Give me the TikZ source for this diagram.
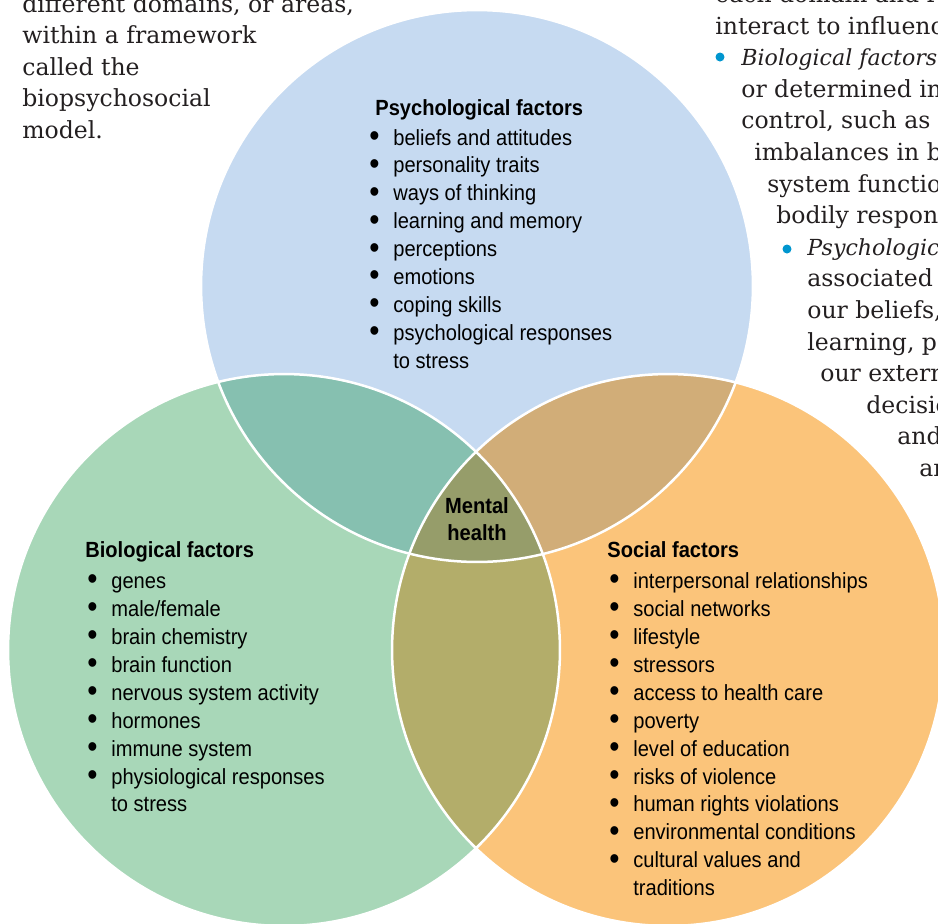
\documentclass[tikz,border=0pt]{standalone}
\usepackage{fontspec}
\setmainfont{DejaVu Serif}
\setsansfont{Liberation Sans}[FakeStretch=0.915]
\usetikzlibrary{positioning}
\definecolor{psyBlue}{HTML}{C6DAF1}
\definecolor{bioGreen}{HTML}{A8D7B8}
\definecolor{socOrange}{HTML}{FBC47A}
\definecolor{bioPsy}{HTML}{86C0B0}
\definecolor{psySoc}{HTML}{D1AD78}
\definecolor{bioSoc}{HTML}{B3AD6A}
\definecolor{mentalCore}{HTML}{969D6A}
\definecolor{pageInk}{HTML}{231F20}
\definecolor{bulletCyan}{HTML}{0096CF}
\newcommand{\blt}{\smash{\raisebox{-0.06em}{\scalebox{1.45}{\textbullet}}}}
\newcommand{\itx}[1]{{\fontsize{12.6}{18}\selectfont\itshape #1}}

\begin{document}
\begin{tikzpicture}[
    x=0.02cm, y=-0.02cm,
    factor/.style={anchor=base west, inner sep=0pt, font=\sffamily\fontsize{12.5}{15.9}\selectfont},
    heading/.style={anchor=base west, inner sep=0pt, font=\sffamily\bfseries\fontsize{12.5}{15.9}\selectfont},
    pagetext/.style={anchor=base west, inner sep=0pt, text=pageInk, font=\fontsize{13.4}{18}\selectfont},
    ring/.style={draw=white, line width=0.05cm},
    dot/.style={fill=bulletCyan}
  ]
    \clip (0,0) rectangle (938,924);
    \coordinate (psy) at (477,286);
    \coordinate (bio) at (284,650);
    \coordinate (soc) at (668,650);

    % the three domains
    \fill[psyBlue] (psy) circle[radius=5.52cm];
    \fill[bioGreen] (bio) circle[radius=5.52cm];
    \fill[socOrange] (soc) circle[radius=5.52cm];
    \begin{scope}
      \clip (psy) circle[radius=5.52cm];
      \fill[bioPsy] (bio) circle[radius=5.52cm];
      \fill[psySoc] (soc) circle[radius=5.52cm];
    \end{scope}
    \begin{scope}
      \clip (bio) circle[radius=5.52cm];
      \fill[bioSoc] (soc) circle[radius=5.52cm];
      \clip (soc) circle[radius=5.52cm];
      \fill[mentalCore] (psy) circle[radius=5.52cm];
    \end{scope}
    \draw[ring] (psy) circle[radius=5.52cm];
    \draw[ring] (bio) circle[radius=5.52cm];
    \draw[ring] (soc) circle[radius=5.52cm];

    % lists
    \node[heading] (psyHead) at (375,115) {Psychological factors};
    \node[factor] (psyList) at (369,145) {\begin{tabular}[t]{@{}p{0.48cm}@{}l@{}}
      \blt & beliefs and attitudes\\
      \blt & personality traits\\
      \blt & ways of thinking\\
      \blt & learning and memory\\
      \blt & perceptions\\
      \blt & emotions\\
      \blt & coping skills\\
      \blt & psychological responses\\
           & to stress
    \end{tabular}};

    \node[heading] (bioHead) at (85,557) {Biological factors};
    \node[factor] (bioList) at (87,588.5) {\begin{tabular}[t]{@{}p{0.48cm}@{}l@{}}
      \blt & genes\\
      \blt & male/female\\
      \blt & brain chemistry\\
      \blt & brain function\\
      \blt & nervous system activity\\
      \blt & hormones\\
      \blt & immune system\\
      \blt & physiological responses\\
           & to stress
    \end{tabular}};

    \node[heading] (socHead) at (607,557) {Social factors};
    \node[factor] (socList) at (609,588.5) {\begin{tabular}[t]{@{}p{0.48cm}@{}l@{}}
      \blt & interpersonal relationships\\
      \blt & social networks\\
      \blt & lifestyle\\
      \blt & stressors\\
      \blt & access to health care\\
      \blt & poverty\\
      \blt & level of education\\
      \blt & risks of violence\\
      \blt & human rights violations\\
      \blt & environmental conditions\\
      \blt & cultural values and\\
           & traditions
    \end{tabular}};

    \node[align=center, inner sep=0pt, font=\sffamily\bfseries\fontsize{12.5}{15.4}\selectfont] (mental) at (477,519) {Mental\\health};

    % page text round the figure
    \foreach \txt [count=\i] in {{different domains, or areas,}, within a framework, called the, biopsychosocial, model.}
      \node[pagetext] (left\i) at (22,{12+31.6*(\i-1)}) {\txt};
    \foreach \xpos/\txt [count=\i] in {715/each domain and r, 715/interact to influence,
        741/\itx{Biological factors}, 741/or determined in, 741/{control, such as},
        754/imbalances in b, 767/system function, 776/bodily responses,
        807/\itx{Psychological}, 807/associated with, 807/{our beliefs,},
        807/{learning, perceptions}, 820/our external, 866/decisions, 897/and, 919/are}
      \node[pagetext] (right\i) at (\xpos,{2.4+31.6*(\i-1)}) {\txt};
    \fill[dot] (720,57) circle[radius=0.09cm];
    \fill[dot] (787,249) circle[radius=0.09cm];
  \end{tikzpicture}
\end{document}
